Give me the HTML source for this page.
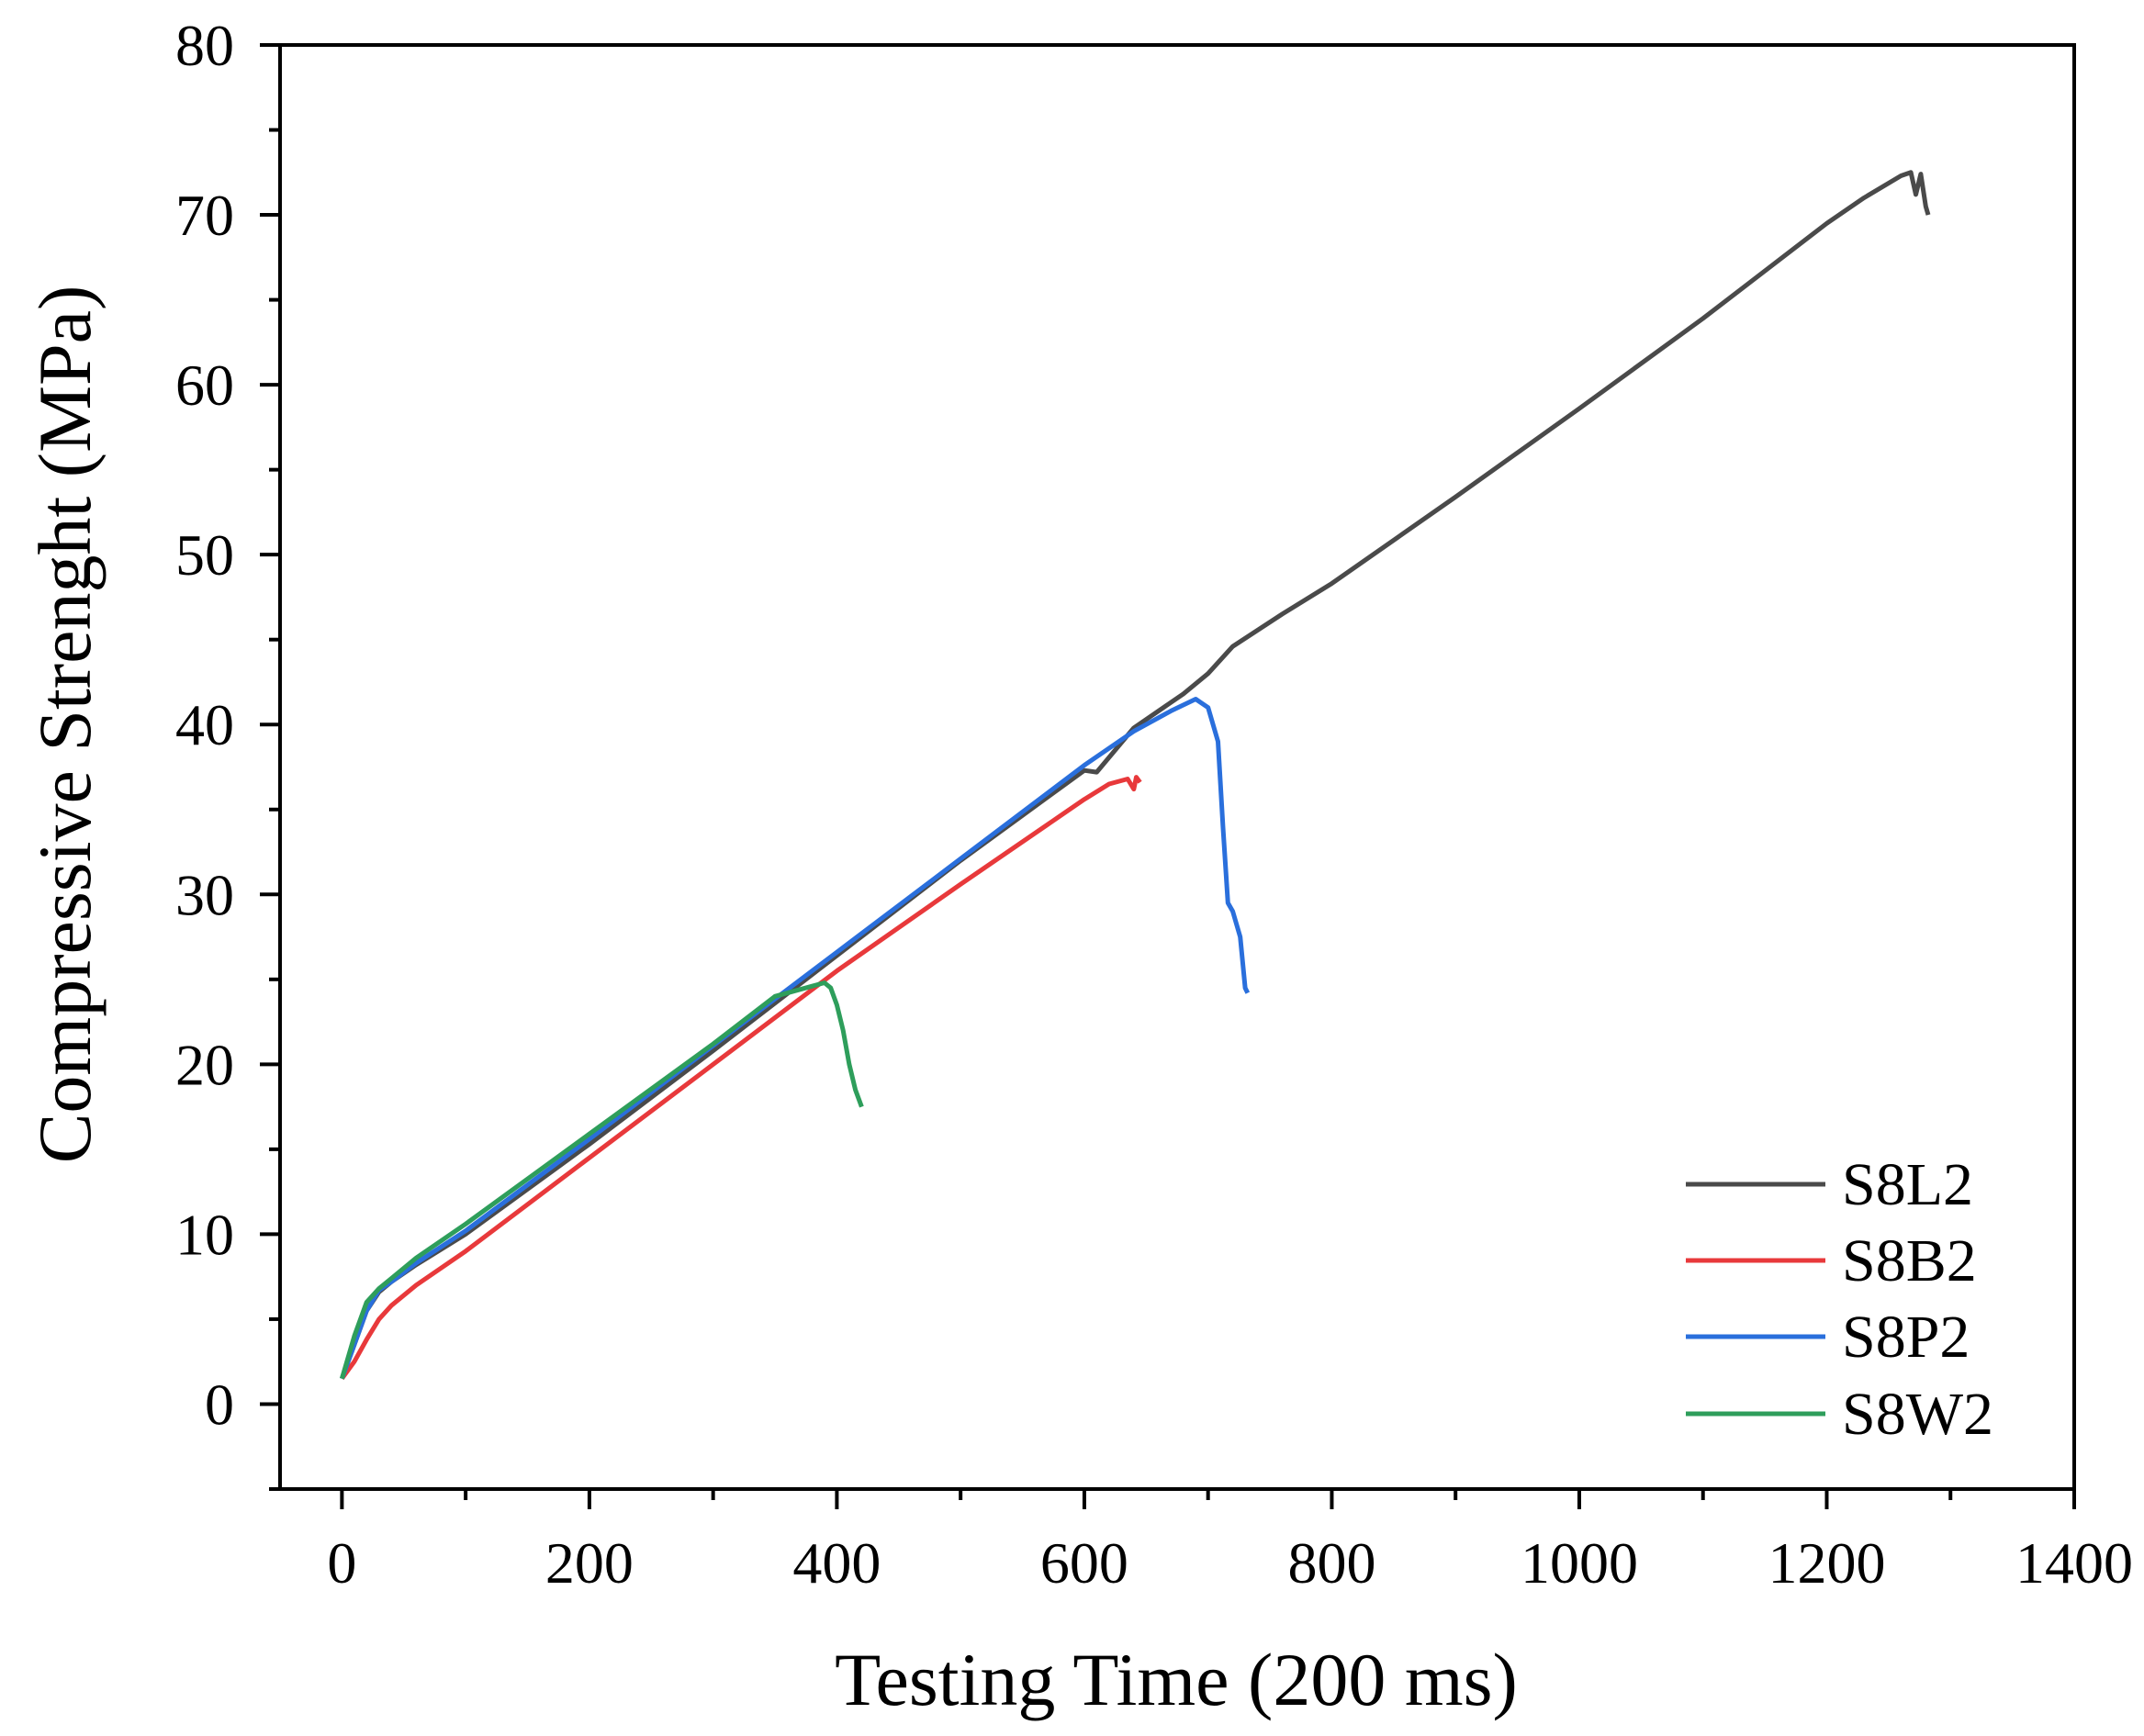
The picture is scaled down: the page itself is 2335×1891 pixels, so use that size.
<!DOCTYPE html>
<html><head><meta charset="utf-8">
<style>
html,body{margin:0;padding:0;background:#fff;}
svg{display:block;font-family:"Liberation Serif",serif;}
</style></head>
<body>
<svg id="chart" width="2335" height="1891" viewBox="0 0 2335 1891" xmlns="http://www.w3.org/2000/svg"></svg>
<script>
const xTicks = [0,200,400,600,800,1000,1200,1400];
const yTicks = [0,10,20,30,40,50,60,70,80];
const seriesNames = ["S8L2","S8B2","S8P2","S8W2"];
const seriesColors = ["#4a4a4a","#e8393b","#2a6fdc","#2e9e5b"];
const l2X = [0,10,20,30,40,60,100,200,300,400,500,600,610,640,680,700,720,760,800,900,1000,1100,1200,1230,1260,1268,1272,1276,1280,1282];
const l2Y = [1.5,3.5,5.5,6.6,7.2,8.2,10,15.3,20.8,26.4,32,37.3,37.2,39.8,41.8,43,44.6,46.5,48.3,53.4,58.6,63.9,69.5,71,72.3,72.5,71.2,72.4,70.5,70];
const b2X = [0,10,20,30,40,60,100,200,300,400,500,600,620,635,640,642,645];
const b2Y = [1.5,2.5,3.8,5,5.8,7,9,14.5,20,25.5,30.6,35.6,36.5,36.8,36.2,36.9,36.6];
const p2X = [0,10,20,30,40,60,100,200,300,400,500,600,640,670,690,700,708,712,716,720,726,730,732];
const p2Y = [1.5,3.5,5.5,6.7,7.2,8.3,10.2,15.6,21.1,26.6,32.1,37.6,39.6,40.8,41.5,41,39,34,29.5,29,27.5,24.5,24.2];
const w2X = [0,10,20,30,40,60,100,200,300,350,380,390,395,400,405,410,415,420];
const w2Y = [1.5,4,6,6.8,7.4,8.6,10.6,15.9,21.2,24,24.6,24.8,24.5,23.5,22,20,18.5,17.5];
const seriesX = [l2X,b2X,p2X,w2X];
const seriesY = [l2Y,b2Y,p2Y,w2Y];

const NS="http://www.w3.org/2000/svg";
const svg=document.getElementById('chart');
const L=305,R=2259,T=49,B=1622;
const xMin=-50,xMax=1400,yMin=-5,yMax=80;
function sx(v){return L+(v-xMin)/(xMax-xMin)*(R-L);}
function sy(v){return B-(v-yMin)/(yMax-yMin)*(B-T);}
function mk(tag,attrs,parent){const e=document.createElementNS(NS,tag);for(const k in attrs)e.setAttribute(k,attrs[k]);(parent||svg).appendChild(e);return e;}

for(let s=0;s<seriesNames.length;s++){
  const pts=seriesX[s].map((x,i)=>sx(x).toFixed(1)+','+sy(seriesY[s][i]).toFixed(1)).join(' ');
  const pl=mk('polyline',{points:pts,fill:'none',stroke:seriesColors[s],'stroke-width':5,'stroke-linejoin':'round'});
  
  
}
const fr=mk('rect',{x:L,y:T,width:R-L,height:B-T,fill:'none',stroke:'#000','stroke-width':4});


for(let v=0;v<=1400;v+=100){
  const major=v%200===0;
  const t=mk('line',{x1:sx(v),x2:sx(v),y1:B,y2:B+(major?22:12),stroke:'#000','stroke-width':4});
  
  
}
xTicks.forEach(v=>{
  const t=mk('text',{x:sx(v),y:B+102,'font-size':64,'text-anchor':'middle',fill:'#000'});
  t.textContent=v;
  
  
});
for(let v=-5;v<=80;v+=5){
  const major=v%10===0;
  const t=mk('line',{x1:L,x2:L-(major?22:12),y1:sy(v),y2:sy(v),stroke:'#000','stroke-width':4});
  
  
}
yTicks.forEach(v=>{
  const t=mk('text',{x:L-50,y:sy(v)+22,'font-size':64,'text-anchor':'end',fill:'#000'});
  t.textContent=v;
  
  
});
const xt=mk('text',{x:1281,y:1857,'font-size':82,'text-anchor':'middle',fill:'#000'});
xt.textContent='Testing Time (200 ms)';


const yt=mk('text',{x:0,y:0,'font-size':82,'text-anchor':'middle',fill:'#000',transform:'translate(98,789) rotate(-90)'});
yt.textContent='Compressive Strenght (MPa)';


const legY=[1290,1373,1456,1540];
for(let s=0;s<seriesNames.length;s++){
  const g=mk('g',{});
  
  
  mk('line',{x1:1836,x2:1988,y1:legY[s],y2:legY[s],stroke:seriesColors[s],'stroke-width':5},g);
  const tx=mk('text',{x:2006,y:legY[s]+22,'font-size':66,fill:'#000'},g);
  tx.textContent=seriesNames[s];
}
</script>
</body></html>
